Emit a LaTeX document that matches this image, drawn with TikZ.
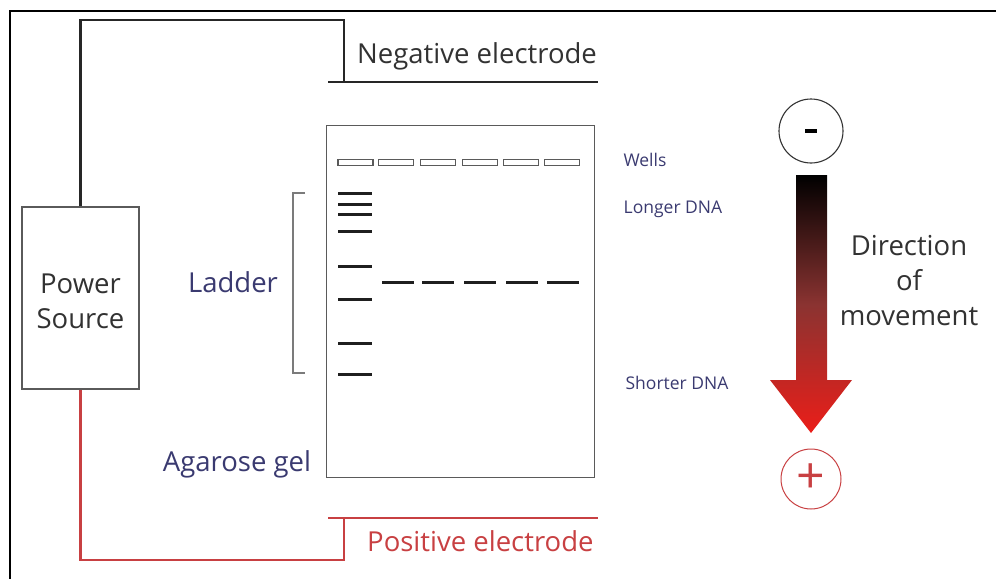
\documentclass[tikz,border=0pt]{standalone}
\usepackage{fontspec}
\setmainfont{Open Sans}
\definecolor{labcol}{RGB}{58,58,112}
\definecolor{txtgray}{RGB}{50,50,50}
\definecolor{wirered}{RGB}{200,64,66}
\definecolor{gelgray}{RGB}{90,90,90}
\definecolor{arrowred}{RGB}{235,30,25}
\begin{document}
\begin{tikzpicture}[x=1pt,y=-1pt,
  wire/.style={line width=2.8pt,color=black!85},
  redwire/.style={line width=2.8pt,color=wirered},
  big/.style={font=\fontsize{27.5}{35}\selectfont,inner sep=0pt,align=center},
  small/.style={font=\fontsize{17.5}{18}\selectfont,inner sep=0pt,text=labcol},
  well/.style={draw=gelgray,fill=white,line width=1.3pt,minimum width=35pt,minimum height=6pt,inner sep=0pt},
  band/.style={fill=black!88,minimum width=34pt,minimum height=3pt,inner sep=0pt},
  sband/.style={band,minimum width=32pt}]
\useasboundingbox (0,0) rectangle (996,579);
% frame
\draw[line width=1.6pt] (996,11) -- (10,11) -- (10,579);
% power source
\node[draw=gelgray,line width=1.3pt,minimum width=117pt,minimum height=182pt,inner sep=0pt] (ps) at (80.5,298) {};
\node[big,text=txtgray] (pstext) at (80.5,301) {Power\\Source};
% negative electrode
\coordinate (nc) at (344,20);
\coordinate (negE) at (344,82);
\coordinate (negL) at (328,82);
\coordinate (negR) at (598,82);
\draw[wire] (ps.north) |- (nc) -- (negE);
\draw[wire] (negL) -- (negR);
\node[big,text=txtgray,anchor=west] (negtext) at (357,56) {Negative electrode};
% positive electrode
\coordinate (pc) at (344,560);
\coordinate (posE) at (344,518);
\coordinate (posL) at (328,518);
\coordinate (posR) at (598,518);
\draw[redwire] (ps.south) |- (pc) -- (posE);
\draw[redwire] (posL) -- (posR);
\node[big,text=wirered,anchor=west] (postext) at (367,541) {Positive electrode};
% gel
\node[draw=gelgray,line width=1.3pt,minimum width=268pt,minimum height=352pt,inner sep=0pt,anchor=north west] (gel) at (326,125) {};
\foreach \i/\x in {1/355.5,2/396,3/438,4/480,5/521,6/562}
  \node[well] (w\i) at (\x,162.5) {};
\foreach \i/\y in {1/193,2/204,3/214,4/231,5/266,6/299,7/343,8/374}
  \node[band] (l\i) at (355,\y) {};
\foreach \i/\x in {1/397.5,2/438,3/479.5,4/521.5,5/563}
  \node[sband] (s\i) at (\x,282) {};
% ladder bracket
\draw[gelgray!80,line width=1.2pt] (305,193) -- (293,193) -- (293,373) -- (305,373);
\node[big,text=labcol] (ladder) at (233,282) {Ladder};
\node[big,text=labcol] (agarose) at (237,464) {Agarose gel};
% right labels
\node[small] (wells) at (645,160) {Wells};
\node[small] (longer) at (673,209) {Longer DNA};
\node[small] (shorter) at (677,383) {Shorter DNA};
% direction arrow
\shade[top color=black,bottom color=arrowred,middle color=black!50!arrowred!85]
  (796,175) -- (827,175) -- (827,380) -- (852,380) -- (811,433) -- (770,380) -- (796,380) -- cycle;
\node[draw=black!80,line width=1.1pt,circle,minimum size=64pt,inner sep=0pt] (minus) at (811,131) {\rule{12pt}{4pt}};
\node[draw=wirered,line width=1pt,circle,minimum size=60pt,inner sep=0pt,text=wirered,font=\fontsize{50}{50}\selectfont] (plus) at (811,479) {+};
\node[big,text=txtgray] (dir) at (909,281) {Direction\\of\\movement};
\end{tikzpicture}
\end{document}
